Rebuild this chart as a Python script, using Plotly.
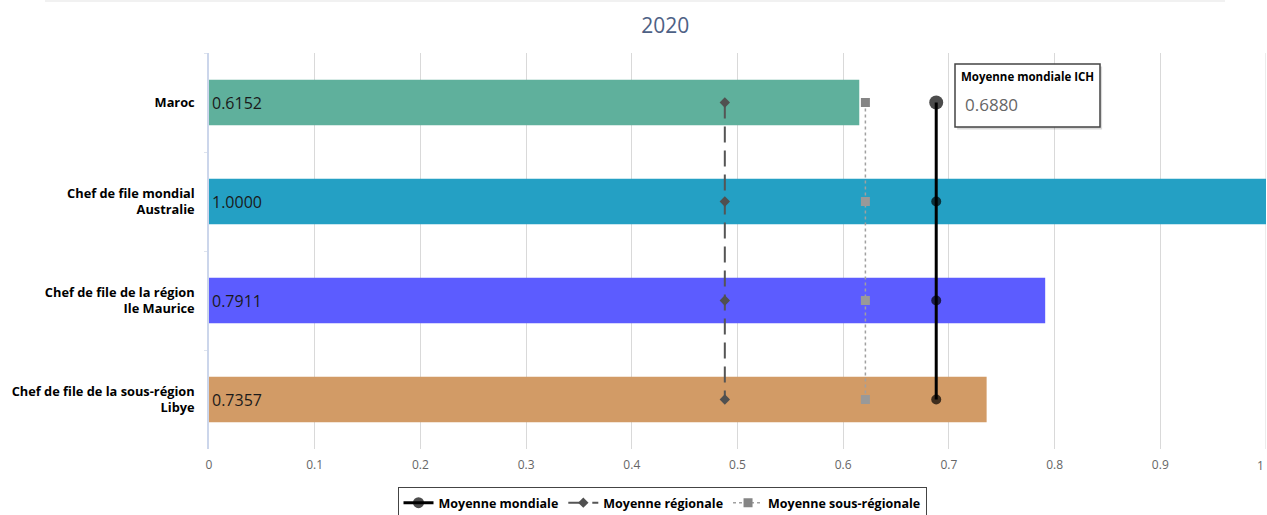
import plotly.graph_objects as go

categories = ["Maroc", "Chef de file mondial<br>Australie", "Chef de file de la région<br>Ile Maurice",
              "Chef de file de la sous-région<br>Libye"]
values = [0.6152, 1.0000, 0.7911, 0.7357]
bar_colors = ["#5fb09c", "#24a0c4", "#5c5cff", "#d29b66"]
world_avg = [0.6880, 0.6880, 0.6880, 0.6880]
regional_avg = [0.488, 0.488, 0.488, 0.488]
subregional_avg = [0.621, 0.621, 0.621, 0.621]
x_ticks = [0, 0.1, 0.2, 0.3, 0.4, 0.5, 0.6, 0.7, 0.8, 0.9, 1]
x_ticklabels = ["0", "0.1", "0.2", "0.3", "0.4", "0.5", "0.6", "0.7", "0.8", "0.9", "1"]

FONT = "Open Sans"
fig = go.Figure()
fig.add_trace(go.Bar(
    x=values, y=categories, orientation="h", marker=dict(color=bar_colors, line=dict(width=0)),
    width=0.46, text=[f"{v:.4f}" for v in values], textposition="inside", insidetextanchor="start",
    textfont=dict(color="#1a1a1a", size=16, family=FONT), showlegend=False, hoverinfo="skip",
    cliponaxis=False))

fig.add_trace(go.Scatter(
    x=regional_avg, y=categories, mode="lines+markers", name="Moyenne régionale", legendrank=2,
    line=dict(color="#555555", width=2, dash="16px,8px"),
    marker=dict(symbol="diamond", size=8, color="#505050", line=dict(width=0))))
fig.add_trace(go.Scatter(
    x=subregional_avg, y=categories, mode="lines+markers", name="Moyenne sous-régionale", legendrank=3,
    line=dict(color="#a0a0a0", width=1.5, dash="dot"),
    marker=dict(symbol="square", size=9, color=["#858585", "#999999", "#999999", "#999999"],
                line=dict(width=0))))
fig.add_trace(go.Scatter(
    x=world_avg, y=categories, mode="lines+markers", name="Moyenne mondiale", legendrank=1,
    line=dict(color="#000000", width=3),
    marker=dict(symbol="circle", size=[14, 10, 10, 10], color="#000000", line=dict(width=0))))

# tooltip box
x0 = (955 - 209) / 1057
x1 = (1100 - 209) / 1057
y_top = (449 - 64) / 396
y_bot = (449 - 127) / 396
fig.add_shape(type="rect", xref="x", yref="paper", x0=x0 + 0.002, x1=x1 + 0.002, y0=y_bot - 0.006, y1=y_top - 0.006,
              line=dict(width=0), fillcolor="rgba(0,0,0,0.15)", layer="above")
fig.add_shape(type="rect", xref="x", yref="paper", x0=x0, x1=x1, y0=y_bot, y1=y_top,
              line=dict(width=1.5, color="#444"), fillcolor="white", layer="above")
fig.add_annotation(x=(959 - 209) / 1057, y=(449 - 76) / 396, xref="x", yref="paper", xanchor="left",
                   yanchor="middle", showarrow=False, text="<b>Moyenne mondiale ICH</b>",
                   font=dict(size=11.5, color="#000", family=FONT))
fig.add_annotation(x=(963 - 209) / 1057, y=(449 - 105) / 396, xref="x", yref="paper", xanchor="left",
                   yanchor="middle", showarrow=False, text="0.6880",
                   font=dict(size=17, color="#666", family=FONT))

# last x tick label, kept inside the page at the right edge
fig.add_annotation(x=x_ticks[-1], y=0, xref="x", yref="paper", xanchor="right", yanchor="top",
                   yshift=-6, showarrow=False, text=x_ticklabels[-1],
                   font=dict(size=12, color="#666", family=FONT))

# top border line
fig.add_shape(type="line", xref="paper", yref="paper", x0=(45 - 209) / 1057, x1=(1225 - 209) / 1057,
              y0=(449 - 1) / 396, y1=(449 - 1) / 396, line=dict(color="#e3e3e3", width=1))

fig.update_layout(
    width=1267, height=515,
    margin=dict(l=209, r=1, t=53, b=66),
    paper_bgcolor="white", plot_bgcolor="white",
    font=dict(family=FONT),
    title=dict(text="2020", x=0.525, xanchor="center", y=1 - 26 / 515, yanchor="middle",
               font=dict(size=21, color="#4d6185", family=FONT)),
    xaxis=dict(range=[0, 1], tickvals=x_ticks[:-1], ticktext=x_ticklabels[:-1], showgrid=True,
               gridcolor="#d9d9d9", gridwidth=1, zeroline=False, showline=False,
               tickfont=dict(size=12, color="#666", family=FONT), ticks="", fixedrange=True,
               automargin=False, ticklabelstandoff=7),
    yaxis=dict(autorange="reversed", showgrid=False, showline=True, linecolor="#ccd6eb", linewidth=1.5,
               tickfont=dict(size=12.8, color="#000", family=FONT, weight="bold"),
               ticks="outside", tickson="boundaries", ticklen=3, tickcolor="#dde3ee",
               ticklabelstandoff=10, automargin=False),
    legend=dict(orientation="h", x=662 / 1267, xanchor="center", xref="container",
                y=1 - 487 / 515, yanchor="top", yref="container",
                bordercolor="#444", borderwidth=1, bgcolor="white",
                font=dict(size=12.5, color="#000", family=FONT, weight="bold"),
                itemwidth=30),
    bargap=0.54,
    showlegend=True,
)
# gridline at x = 1 (right edge)
fig.add_shape(type="line", xref="x", yref="paper", x0=1, x1=1, y0=0, y1=1,
              line=dict(color="#d9d9d9", width=1), layer="below")

fig.write_html("out.html")
